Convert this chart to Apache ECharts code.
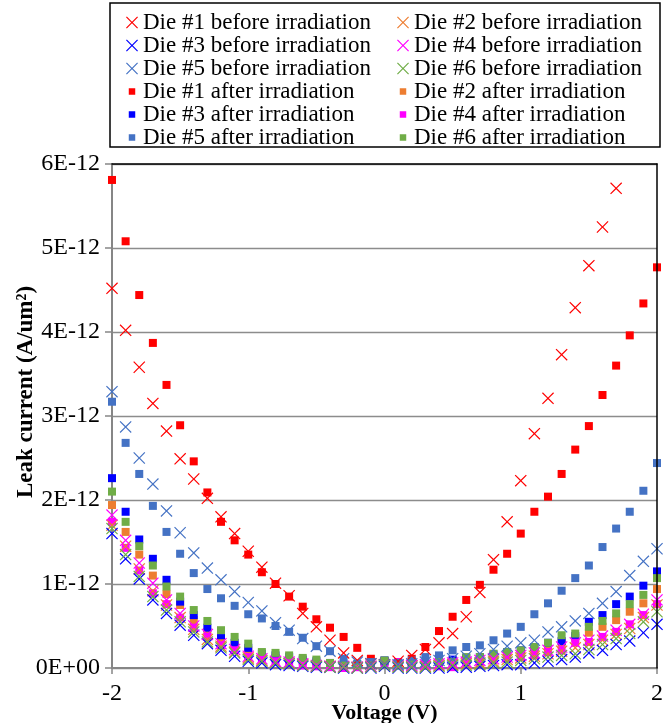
<!DOCTYPE html>
<html>
<head>
<meta charset="utf-8">
<script src="https://cdn.jsdelivr.net/npm/echarts@6/dist/echarts.min.js"></script>
<style>
  html, body { margin: 0; padding: 0; background: #fff; }
  #chart { width: 663px; height: 723px; }
</style>
</head>
<body>
<div id="chart"></div>
<script>
// voltage steps (V)
const voltage = [-2, -1.9, -1.8, -1.7, -1.6, -1.5, -1.4, -1.3, -1.2, -1.1, -1, -0.9, -0.8, -0.7, -0.6, -0.5, -0.4, -0.3, -0.2, -0.1,
  0, 0.1, 0.2, 0.3, 0.4, 0.5, 0.6, 0.7, 0.8, 0.9, 1, 1.1, 1.2, 1.3, 1.4, 1.5, 1.6, 1.7, 1.8, 1.9, 2];

const yTickLabels = ['0E+00', '1E-12', '2E-12', '3E-12', '4E-12', '5E-12', '6E-12'];

// leak current, in units of 1E-12 A/um2
const die1Before = [4.52, 4.02, 3.58, 3.15, 2.82, 2.49, 2.25, 2.02, 1.80, 1.60, 1.39, 1.20, 1.01, 0.86, 0.65, 0.49, 0.33, 0.18, 0.09, 0.05,
  0.04, 0.08, 0.15, 0.22, 0.30, 0.41, 0.61, 0.90, 1.29, 1.74, 2.23, 2.79, 3.21, 3.73, 4.29, 4.79, 5.25, 5.71, null, null, null];
const die2Before = [1.70, 1.45, 1.18, 0.92, 0.75, 0.60, 0.46, 0.34, 0.26, 0.19, 0.12, 0.09, 0.07, 0.05, 0.04, 0.02, 0.02, 0.01, 0.01, 0.02,
  0.03, 0.02, 0.02, 0.02, 0.03, 0.04, 0.05, 0.06, 0.08, 0.10, 0.12, 0.14, 0.17, 0.20, 0.24, 0.28, 0.33, 0.40, 0.47, 0.60, 0.75];
const die3Before = [1.60, 1.30, 1.06, 0.81, 0.65, 0.51, 0.39, 0.29, 0.21, 0.14, 0.08, 0.06, 0.04, 0.03, 0.02, 0.01, 0.01, 0.00, 0.00, 0.00,
  0.02, 0.00, 0.00, 0.00, 0.00, 0.01, 0.01, 0.02, 0.03, 0.04, 0.04, 0.06, 0.08, 0.10, 0.13, 0.18, 0.21, 0.28, 0.32, 0.42, 0.52];
const die4Before = [1.82, 1.52, 1.25, 1.01, 0.81, 0.65, 0.50, 0.40, 0.29, 0.22, 0.14, 0.11, 0.08, 0.07, 0.05, 0.03, 0.02, 0.02, 0.01, 0.02,
  0.04, 0.03, 0.03, 0.04, 0.05, 0.06, 0.07, 0.09, 0.11, 0.13, 0.15, 0.18, 0.21, 0.25, 0.30, 0.33, 0.38, 0.45, 0.52, 0.64, 0.81];
const die5Before = [3.29, 2.87, 2.50, 2.19, 1.87, 1.61, 1.37, 1.19, 1.05, 0.91, 0.78, 0.68, 0.54, 0.45, 0.35, 0.26, 0.20, 0.11, 0.07, 0.05,
  0.04, 0.04, 0.05, 0.07, 0.09, 0.11, 0.14, 0.17, 0.22, 0.26, 0.30, 0.33, 0.43, 0.49, 0.56, 0.65, 0.77, 0.91, 1.10, 1.27, 1.42];
const die6Before = [1.66, 1.35, 1.09, 0.85, 0.69, 0.55, 0.43, 0.31, 0.24, 0.18, 0.10, 0.08, 0.06, 0.05, 0.03, 0.02, 0.01, 0.01, 0.00, 0.01,
  0.03, 0.01, 0.01, 0.01, 0.02, 0.03, 0.03, 0.04, 0.06, 0.07, 0.09, 0.11, 0.13, 0.15, 0.17, 0.22, 0.28, 0.35, 0.41, 0.55, 0.67];

const die1After = [5.81, 5.08, 4.44, 3.87, 3.37, 2.89, 2.46, 2.09, 1.74, 1.52, 1.35, 1.14, 1.00, 0.85, 0.73, 0.58, 0.48, 0.37, 0.24, 0.11,
  0.08, 0.07, 0.11, 0.25, 0.44, 0.61, 0.81, 0.99, 1.17, 1.36, 1.60, 1.86, 2.04, 2.31, 2.60, 2.88, 3.25, 3.60, 3.96, 4.34, 4.77];
const die2After = [1.94, 1.62, 1.35, 1.10, 0.88, 0.75, 0.57, 0.43, 0.35, 0.27, 0.21, 0.14, 0.12, 0.10, 0.08, 0.06, 0.04, 0.03, 0.03, 0.05,
  0.08, 0.05, 0.04, 0.04, 0.06, 0.09, 0.10, 0.12, 0.14, 0.16, 0.17, 0.21, 0.25, 0.30, 0.36, 0.42, 0.49, 0.57, 0.67, 0.77, 0.94];
const die3After = [2.26, 1.86, 1.53, 1.30, 1.05, 0.79, 0.63, 0.48, 0.39, 0.30, 0.24, 0.17, 0.15, 0.13, 0.10, 0.08, 0.06, 0.04, 0.04, 0.06,
  0.09, 0.06, 0.05, 0.05, 0.07, 0.10, 0.12, 0.13, 0.16, 0.19, 0.21, 0.25, 0.30, 0.32, 0.38, 0.55, 0.63, 0.76, 0.85, 0.98, 1.15];
const die4After = [1.74, 1.43, 1.16, 0.89, 0.76, 0.60, 0.48, 0.37, 0.27, 0.21, 0.13, 0.10, 0.08, 0.06, 0.03, 0.02, 0.01, 0.00, 0.01, 0.03,
  0.06, 0.07, 0.05, 0.03, 0.02, 0.01, 0.04, 0.05, 0.10, 0.12, 0.13, 0.15, 0.19, 0.21, 0.30, 0.31, 0.37, 0.43, 0.52, 0.63, 0.76];
const die5After = [3.17, 2.68, 2.31, 1.93, 1.62, 1.36, 1.13, 0.94, 0.83, 0.74, 0.64, 0.59, 0.50, 0.43, 0.36, 0.26, 0.20, 0.11, 0.05, 0.07,
  0.08, 0.06, 0.09, 0.13, 0.15, 0.21, 0.25, 0.27, 0.33, 0.41, 0.49, 0.64, 0.77, 0.92, 1.07, 1.22, 1.44, 1.66, 1.86, 2.11, 2.44];
const die6After = [2.10, 1.74, 1.45, 1.22, 0.97, 0.85, 0.69, 0.56, 0.45, 0.37, 0.29, 0.19, 0.18, 0.15, 0.12, 0.10, 0.06, 0.03, 0.03, 0.03,
  0.09, 0.03, 0.04, 0.03, 0.07, 0.07, 0.13, 0.13, 0.17, 0.19, 0.21, 0.25, 0.30, 0.39, 0.41, 0.49, 0.56, 0.65, 0.76, 0.87, 1.07];

const dieColors = ['#FF0000', '#ED7D31', '#0000FF', '#FF00FF', '#4472C4', '#70AD47'];

const beforeSets = [die1Before, die2Before, die3Before, die4Before, die5Before, die6Before];
const afterSets = [die1After, die2After, die3After, die4After, die5After, die6After];

const FONT = '"Liberation Serif", "Times New Roman", serif';
// thin "x" drawn as a filled outline
const CROSS = 'path://M0,0.7L0.7,0L5,4.3L9.3,0L10,0.7L5.7,5L10,9.3L9.3,10L5,5.7L0.7,10L0,9.3L4.3,5Z';
// small square with empty padding so the legend icon stays small
const SMALL_SQUARE = 'path://M-3,-3L-3,-3ZM0,0L7,0L7,7L0,7ZM10,10L10,10Z';

function pairs(values) {
  return voltage.map((v, i) => [v, values[i]]);
}

const series = [];
afterSets.forEach((d, i) => {
  series.push({
    name: `Die #${i + 1} after irradiation`,
    type: 'scatter',
    symbol: 'rect',
    symbolSize: 8,
    clip: false,
    itemStyle: { color: dieColors[i], opacity: 1 },
    data: pairs(d)
  });
});
beforeSets.forEach((d, i) => {
  series.push({
    name: `Die #${i + 1} before irradiation`,
    type: 'scatter',
    symbol: CROSS,
    symbolSize: 12,
    clip: false,
    itemStyle: { color: dieColors[i], opacity: 1 },
    data: pairs(d)
  });
});

function legendItem(die, before) {
  return {
    name: `Die #${die} ${before ? 'before' : 'after'} irradiation`,
    icon: before ? CROSS : SMALL_SQUARE,
    itemStyle: { color: dieColors[die - 1] }
  };
}

const legendBase = {
  orient: 'vertical',
  top: 6,
  itemWidth: 12,
  itemHeight: 12,
  itemGap: 0,
  selectedMode: false,
  textStyle: { fontFamily: FONT, fontSize: 23, color: '#000', lineHeight: 22 }
};

const option = {
  animation: false,
  grid: {
    left: 112,
    right: 6,
    top: 164,
    bottom: 55,
    outerBoundsMode: 'none'
  },
  legend: [
    Object.assign({}, legendBase, {
      left: 121,
      data: [legendItem(1, true), legendItem(3, true), legendItem(5, true), legendItem(1, false), legendItem(3, false), legendItem(5, false)]
    }),
    Object.assign({}, legendBase, {
      left: 392,
      data: [legendItem(2, true), legendItem(4, true), legendItem(6, true), legendItem(2, false), legendItem(4, false), legendItem(6, false)]
    })
  ],
  graphic: [
    {
      type: 'rect',
      shape: { x: 110, y: 3, width: 550, height: 144 },
      style: { fill: 'none', stroke: '#000', lineWidth: 1.5 }
    },
    {
      type: 'text',
      x: 26,
      y: 392,
      rotation: Math.PI / 2,
      style: {
        text: 'Leak current (A/um²)',
        fontFamily: FONT,
        fontSize: 23,
        fontWeight: 'bold',
        fill: '#000',
        textAlign: 'center',
        textVerticalAlign: 'middle'
      }
    }
  ],
  xAxis: [
    {
      type: 'value',
      min: -2,
      max: 2,
      interval: 1,
      name: 'Voltage (V)',
      nameLocation: 'middle',
      nameGap: 34,
      nameMoveOverlap: false,
      nameTextStyle: { fontFamily: FONT, fontSize: 22, fontWeight: 'bold', color: '#000' },
      axisLine: { onZero: false, lineStyle: { color: '#868686', width: 2 } },
      axisTick: { show: true, length: 6, lineStyle: { color: '#868686', width: 1.5 } },
      axisLabel: { fontFamily: FONT, fontSize: 24, color: '#000', margin: 14 },
      splitLine: { show: false }
    },
    {
      type: 'value',
      position: 'top',
      min: -2,
      max: 2,
      z: 3,
      axisLine: { onZero: false, lineStyle: { color: '#000', width: 1.5 } },
      axisTick: { show: false },
      axisLabel: { show: false },
      splitLine: { show: false }
    }
  ],
  yAxis: [
    {
      type: 'value',
      min: 0,
      max: 6,
      interval: 1,
      axisLine: { show: true, onZero: false, lineStyle: { color: '#868686', width: 2 } },
      axisTick: { show: true, length: 7, lineStyle: { color: '#868686', width: 1.5 } },
      axisLabel: {
        fontFamily: FONT,
        fontSize: 24,
        color: '#000',
        margin: 12,
        formatter: (v) => yTickLabels[Math.round(v)]
      },
      splitLine: { show: true, lineStyle: { color: '#8C8C8C', width: 1.3 } }
    },
    {
      type: 'value',
      position: 'right',
      min: 0,
      max: 6,
      z: 3,
      axisLine: { show: true, onZero: false, lineStyle: { color: '#000', width: 1.5 } },
      axisTick: { show: false },
      axisLabel: { show: false },
      splitLine: { show: false }
    }
  ],
  series: series
};

let myChart;

function onResize() {
  myChart.resize();
}

myChart = echarts.init(document.getElementById('chart'));
myChart.setOption(option);
window.addEventListener('resize', onResize, false);
</script>
</body>
</html>
